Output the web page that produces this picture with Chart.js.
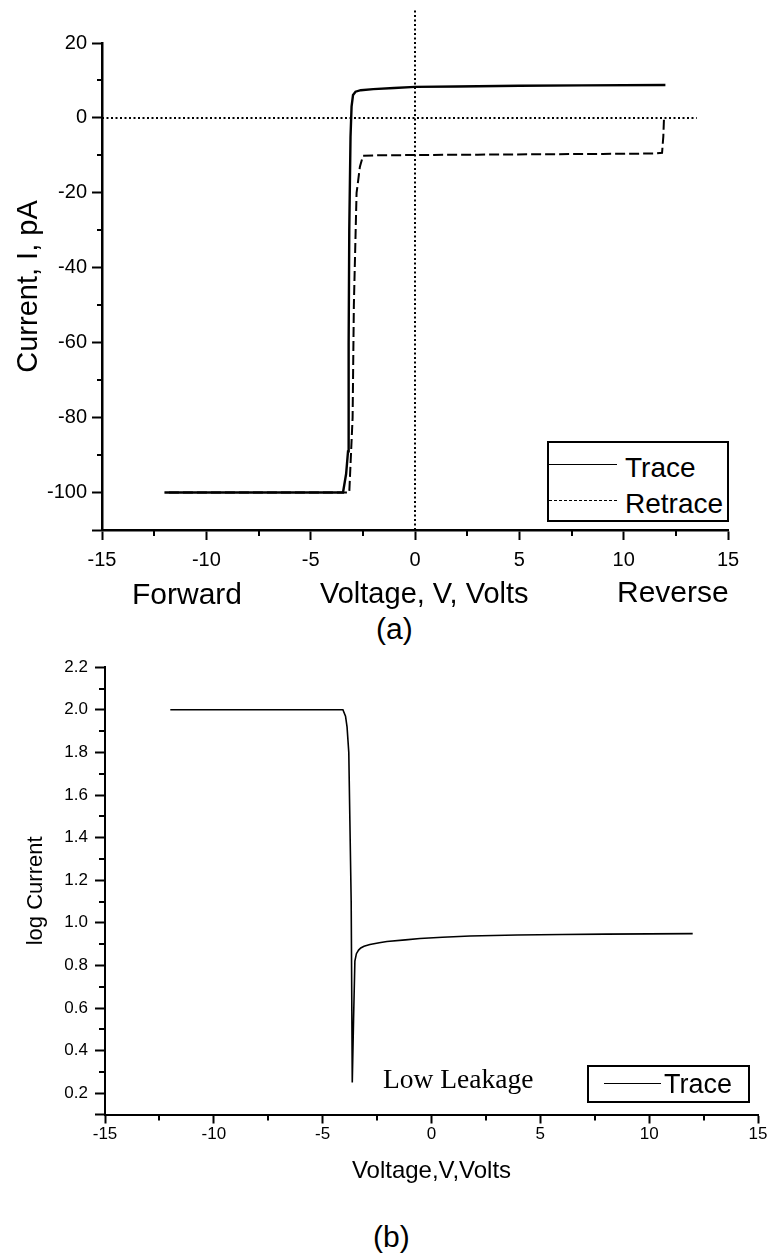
<!DOCTYPE html>
<html>
<head>
<meta charset="utf-8">
<script src="https://cdn.jsdelivr.net/npm/chart.js@4.4.1/dist/chart.umd.min.js"></script>
<style>
  html, body { margin: 0; padding: 0; background: #fff; }
  body { position: relative; width: 769px; height: 1256px; overflow: hidden;
         font-family: "Liberation Sans", Arial, sans-serif; color: #000; }
  canvas { position: absolute; left: 0; }
  .lbl { position: absolute; white-space: nowrap; line-height: 1; }
  .legend { position: absolute; border: 2px solid #000; box-sizing: border-box; background: #fff; }
  .legend .sample { position: absolute; height: 0; border-top: 1.5px solid #000; }
  .legend .txt { position: absolute; line-height: 1; white-space: nowrap; }
</style>
</head>
<body>
<canvas id="chartA" width="769" height="580" style="top:0"></canvas>
<canvas id="chartB" width="769" height="540" style="top:650px"></canvas>

<div class="lbl" style="left:132px; top:579px; font-size:30px">Forward</div>
<div class="lbl" style="left:320px; top:579px; font-size:29px">Voltage, V, Volts</div>
<div class="lbl" style="left:617px; top:577px; font-size:30px">Reverse</div>
<div class="lbl" style="left:376px; top:614px; font-size:30px">(a)</div>

<div class="legend" style="left:547px; top:441px; width:182px; height:81px">
  <div class="sample" style="left:0; width:68px; top:21px"></div>
  <div class="txt" style="left:76px; top:11px; font-size:28px">Trace</div>
  <div class="sample" style="left:0; width:68px; top:57px; border-top-style:dashed; border-top-width:1.2px"></div>
  <div class="txt" style="left:76px; top:47px; font-size:28px">Retrace</div>
</div>

<div class="lbl" style="left:383px; top:1065px; font-size:27.5px; font-family:'Liberation Serif', 'Times New Roman', serif">Low Leakage</div>
<div class="legend" style="left:587px; top:1065px; width:163px; height:38px">
  <div class="sample" style="left:15px; width:57px; top:16px"></div>
  <div class="txt" style="left:75px; top:4px; font-size:27px">Trace</div>
</div>
<div class="lbl" style="left:373px; top:1222px; font-size:30px">(b)</div>

<script>
// (a) current vs voltage, pA
const traceV = [-12, -9, -6, -3.45, -3.3, -3.21, -3.18, -3.15, -3.09, -3.04, -2.97, -2.85, -2.6, -2, -1, 0, 2, 5, 8, 12];
const traceI = [-100, -100, -100, -100, -95, -89, -60, -30, -5, 3, 6.1, 7.0, 7.4, 7.7, 8.0, 8.3, 8.4, 8.6, 8.7, 8.8];
const retraceV = [11.93, 11.9, 11.84, 11.5, 9, 6, 3, 0, -2, -2.49, -2.64, -2.73, -2.8, -2.93, -2.99, -3.15, -6, -9, -12];
const retraceI = [-0.5, -5, -9.3, -9.5, -9.6, -9.7, -9.8, -9.9, -10.0, -10.1, -13, -17, -20, -50, -80, -100, -100, -100, -100];
// dotted zero lines
const zeroV = [-15, 13.5];
const zeroI = [0, 0];
const originV = [0, 0];
const originI = [-110, 29];
const voltTicks = [-15, -10, -5, 0, 5, 10, 15];
const voltMinor = [-12.5, -7.5, -2.5, 2.5, 7.5, 12.5];
const currentTicks = [-110, -100, -80, -60, -40, -20, 0, 20];
const currentMinor = [-90, -70, -50, -30, -10, 10];

// (b) log current vs voltage
const logV = [-12, -9, -6, -4.07, -3.95, -3.88, -3.8, -3.75, -3.69, -3.64, -3.58, -3.52, -3.45, -3.35, -3.25, -3.1, -2.83, -2.4, -2.05, -1.2, -0.53, 0.5, 1.77, 3.93, 6, 8, 10, 12];
const logI = [2.0, 2.0, 2.0, 2.0, 1.97, 1.92, 1.8, 1.48, 1.1, 0.25, 0.55, 0.82, 0.855, 0.872, 0.882, 0.89, 0.898, 0.906, 0.912, 0.92, 0.926, 0.932, 0.938, 0.943, 0.945, 0.947, 0.948, 0.949];
const logTicks = [0.1, 0.2, 0.4, 0.6, 0.8, 1.0, 1.2, 1.4, 1.6, 1.8, 2.0, 2.2];
const logMinor = [0.3, 0.5, 0.7, 0.9, 1.1, 1.3, 1.5, 1.7, 1.9, 2.1];

const sans = '"Liberation Sans", Arial, sans-serif';
const pts = (xs, ys) => xs.map((x, i) => ({ x: x, y: ys[i] }));
const setTicks = list => scale => { scale.ticks = list.map(v => ({ value: v })); };

// short unlabelled ticks between the major ones
const minorTicks = {
  id: 'minorTicks',
  afterDraw(chart, args, opts) {
    const ctx = chart.ctx;
    const xs = chart.scales.x, ys = chart.scales.y;
    ctx.save();
    ctx.strokeStyle = '#000';
    ctx.lineWidth = opts.width;
    opts.x.forEach(v => {
      const px = Math.round(xs.getPixelForValue(v));
      ctx.beginPath(); ctx.moveTo(px, xs.top); ctx.lineTo(px, xs.top + opts.xLen); ctx.stroke();
    });
    opts.y.forEach(v => {
      const py = Math.round(ys.getPixelForValue(v));
      ctx.beginPath(); ctx.moveTo(ys.right, py); ctx.lineTo(ys.right - opts.yLen, py); ctx.stroke();
    });
    ctx.restore();
  }
};

function line(label, data, width, dash, clip) {
  return { label: label, data: data, showLine: true, borderColor: '#000', borderWidth: width,
           borderDash: dash || [], pointRadius: 0, tension: 0, clip: clip };
}

const tickGrid = { drawOnChartArea: false, drawTicks: true, tickLength: 10, tickWidth: 2, tickColor: '#000' };

new Chart(document.getElementById('chartA'), {
  type: 'scatter',
  data: {
    datasets: [
      line('Trace', pts(traceV, traceI), 2.4),
      line('Retrace', pts(retraceV, retraceI), 2, [10, 4]),
      line('zero', pts(zeroV, zeroI), 2, [2, 2.5], false),
      line('origin', pts(originV, originI), 2, [2, 2.5], false)
    ]
  },
  options: {
    responsive: false, animation: false, devicePixelRatio: 1,
    layout: { padding: { top: 43, right: 41, left: 0, bottom: 0 } },
    plugins: {
      legend: { display: false }, tooltip: { enabled: false },
      minorTicks: { x: voltMinor, y: currentMinor, xLen: 6, yLen: 5, width: 2 }
    },
    scales: {
      x: {
        type: 'linear', min: -15, max: 15,
        afterBuildTicks: setTicks(voltTicks),
        afterFit: s => { s.height = 50; },
        grid: tickGrid,
        border: { display: true, color: '#000', width: 2.5 },
        ticks: { color: '#000', font: { family: sans, size: 20 }, padding: 8, maxRotation: 0, autoSkip: false }
      },
      y: {
        type: 'linear', min: -110, max: 20,
        afterBuildTicks: setTicks(currentTicks),
        afterFit: s => { s.width = 102; },
        grid: tickGrid,
        border: { display: true, color: '#000', width: 2.5 },
        ticks: { color: '#000', font: { family: sans, size: 20 }, padding: 5, autoSkip: false,
                 callback: v => v === -110 ? '' : v },
        title: { display: true, text: 'Current, I, pA', color: '#000', font: { family: sans, size: 29 }, padding: { top: 12 } }
      }
    }
  },
  plugins: [minorTicks]
});

new Chart(document.getElementById('chartB'), {
  type: 'scatter',
  data: {
    datasets: [ line('Trace', pts(logV, logI), 1.6) ]
  },
  options: {
    responsive: false, animation: false, devicePixelRatio: 1,
    layout: { padding: { top: 13, right: 11, left: 0, bottom: 0 } },
    plugins: {
      legend: { display: false }, tooltip: { enabled: false },
      minorTicks: { x: voltMinor, y: logMinor, xLen: 6, yLen: 6, width: 2 }
    },
    scales: {
      x: {
        type: 'linear', min: -15, max: 15,
        afterBuildTicks: setTicks(voltTicks),
        afterFit: s => { s.height = 75.5; },
        grid: Object.assign({}, tickGrid, { tickLength: 9 }),
        border: { display: true, color: '#000', width: 2 },
        ticks: { color: '#000', font: { family: sans, size: 17 }, padding: 1, maxRotation: 0, autoSkip: false },
        title: { display: true, text: 'Voltage,V,Volts', color: '#000', font: { family: sans, size: 24 }, padding: { top: 0, bottom: 4 } }
      },
      y: {
        type: 'linear', min: 0.1, max: 2.2,
        afterBuildTicks: setTicks(logTicks),
        afterFit: s => { s.width = 105; },
        grid: tickGrid,
        border: { display: true, color: '#000', width: 2 },
        ticks: { color: '#000', font: { family: sans, size: 17 }, padding: 7, autoSkip: false,
                 callback: v => v === 0.1 ? '' : v.toFixed(1) },
        title: { display: true, text: 'log Current', color: '#000', font: { family: sans, size: 22 }, padding: { top: 23 } }
      }
    }
  },
  plugins: [minorTicks]
});
</script>
</body>
</html>
